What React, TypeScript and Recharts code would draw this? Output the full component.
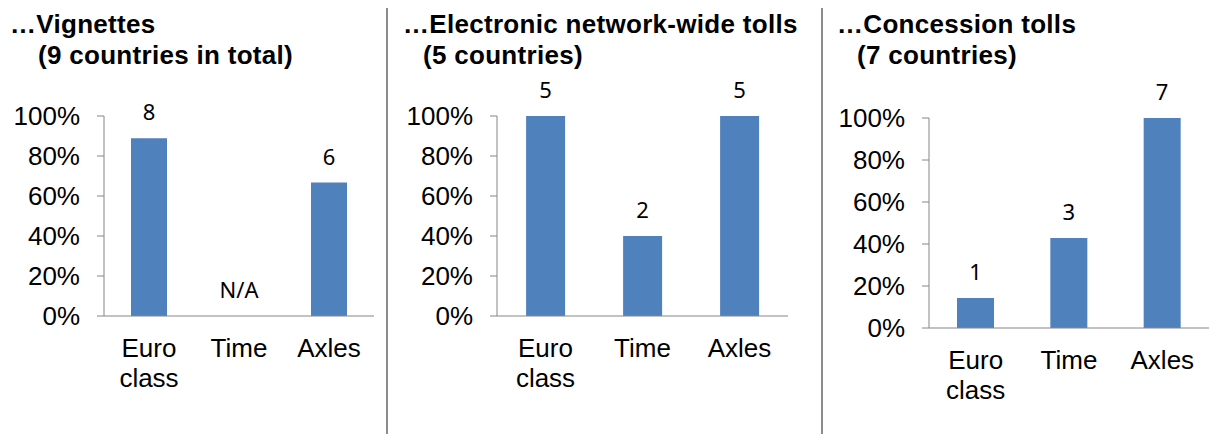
import { BarChart, Bar, XAxis, YAxis, LabelList, ReferenceDot } from 'recharts';

const categories = ['Euro class', 'Time', 'Axles'];

// share of countries (%) and the count shown above each bar
const vignetteShares = [88.9, 0, 66.7];
const vignetteCounts = ['8', 'N/A', '6'];
const electronicShares = [100, 40, 100];
const electronicCounts = ['5', '2', '5'];
const concessionShares = [14.3, 42.9, 100];
const concessionCounts = ['1', '3', '7'];

const yTicks = [0, 20, 40, 60, 80, 100];
const edgeTicks = [0, 1, 2, 3];

const FONT = '"Liberation Sans", Arial, sans-serif';
const LABEL_FONT = '"Noto Sans", sans-serif';
const AXIS = '#868686';
const BLUE = '#4F81BD';
const H = 434;

const CategoryTick = ({ x, y, payload }: any) => {
  const lines = String(payload.value).split(' ');
  return (
    <text x={x} y={y} textAnchor="middle" fill="#000" fontSize={26} fontFamily={FONT}>
      {lines.map((l, i) => (
        <tspan key={i} x={x} dy={i === 0 ? 0 : 30}>{l}</tspan>
      ))}
    </text>
  );
};

interface PanelProps {
  shares: number[];
  counts: string[];
  left: number;
  width: number;
  yAxisWidth: number;
  marginRight: number;
  plotTop: number;
  plotBottom: number;
}

function Panel({ shares, counts, left, width, yAxisWidth, marginRight, plotTop, plotBottom }: PanelProps) {
  const data = categories.map((c, i) => ({ name: c, share: shares[i], count: counts[i] }));
  // zero-height bars get no label from LabelList, so "N/A" goes on a reference dot
  const empty = data.filter((d) => !d.share);
  return (
    <div style={{ position: 'absolute', left, top: 0 }}>
      <BarChart
        width={width}
        height={H}
        data={data}
        barCategoryGap="30%"
        margin={{ top: plotTop, right: marginRight, left: 0, bottom: H - plotBottom - 2 }}
      >
        <XAxis
          xAxisId="a"
          type="number"
          domain={[0, 3]}
          ticks={edgeTicks}
          allowDataOverflow
          height={1}
          tick={false}
          tickSize={7}
          stroke={AXIS}
        />
        <XAxis
          xAxisId="b"
          dataKey="name"
          height={1}
          axisLine={false}
          tickLine={false}
          tickSize={0}
          tickMargin={40}
          interval={0}
          tick={<CategoryTick />}
        />
        <YAxis
          width={yAxisWidth}
          domain={[0, 100]}
          ticks={yTicks}
          interval={0}
          tickFormatter={(v: number) => `${v}%`}
          tickSize={7}
          tickMargin={17}
          stroke={AXIS}
          tick={{ fill: '#000', fontSize: 26, fontFamily: FONT }}
        />
        <Bar xAxisId="b" dataKey="share" fill={BLUE} isAnimationActive={false}>
          <LabelList
            dataKey="count"
            position="top"
            offset={18}
            fill="#000"
            fontSize={22}
            fontFamily={LABEL_FONT}
          />
        </Bar>
        {empty.map((d) => (
          <ReferenceDot
            key={d.name}
            xAxisId="b"
            x={d.name}
            y={0}
            r={0}
            ifOverflow="visible"
            label={{ value: d.count, position: 'top', offset: 18, fill: '#000', fontSize: 22, fontFamily: LABEL_FONT }}
          />
        ))}
      </BarChart>
    </div>
  );
}

const titleStyle = {
  position: 'absolute' as const,
  fontFamily: FONT,
  fontWeight: 'bold' as const,
  fontSize: 26,
  letterSpacing: 0.3,
  lineHeight: 1,
  whiteSpace: 'pre' as const,
  color: '#000',
};

export default function App() {
  return (
    <div style={{ position: 'absolute', left: 0, top: 0, width: 1210, height: H, background: '#fff', overflow: 'hidden' }}>
      <div style={{ ...titleStyle, left: 10, top: 11 }}>…Vignettes</div>
      <div style={{ ...titleStyle, left: 38, top: 42 }}>(9 countries in total)</div>
      <div style={{ ...titleStyle, left: 403, top: 11 }}>…Electronic network-wide tolls</div>
      <div style={{ ...titleStyle, left: 423, top: 42 }}>(5 countries)</div>
      <div style={{ ...titleStyle, left: 837, top: 11 }}>…Concession tolls</div>
      <div style={{ ...titleStyle, left: 857, top: 42 }}>(7 countries)</div>

      <div style={{ position: 'absolute', left: 386, top: 8, width: 2, height: H - 8, background: '#8c8c8c' }} />
      <div style={{ position: 'absolute', left: 821, top: 8, width: 2, height: H - 8, background: '#8c8c8c' }} />

      <Panel shares={vignetteShares} counts={vignetteCounts} left={0} width={387} yAxisWidth={104} marginRight={13} plotTop={116} plotBottom={316} />
      <Panel shares={electronicShares} counts={electronicCounts} left={390} width={430} yAxisWidth={107} marginRight={32} plotTop={116} plotBottom={316} />
      <Panel shares={concessionShares} counts={concessionCounts} left={824} width={386} yAxisWidth={105} marginRight={1} plotTop={118} plotBottom={328} />
    </div>
  );
}
